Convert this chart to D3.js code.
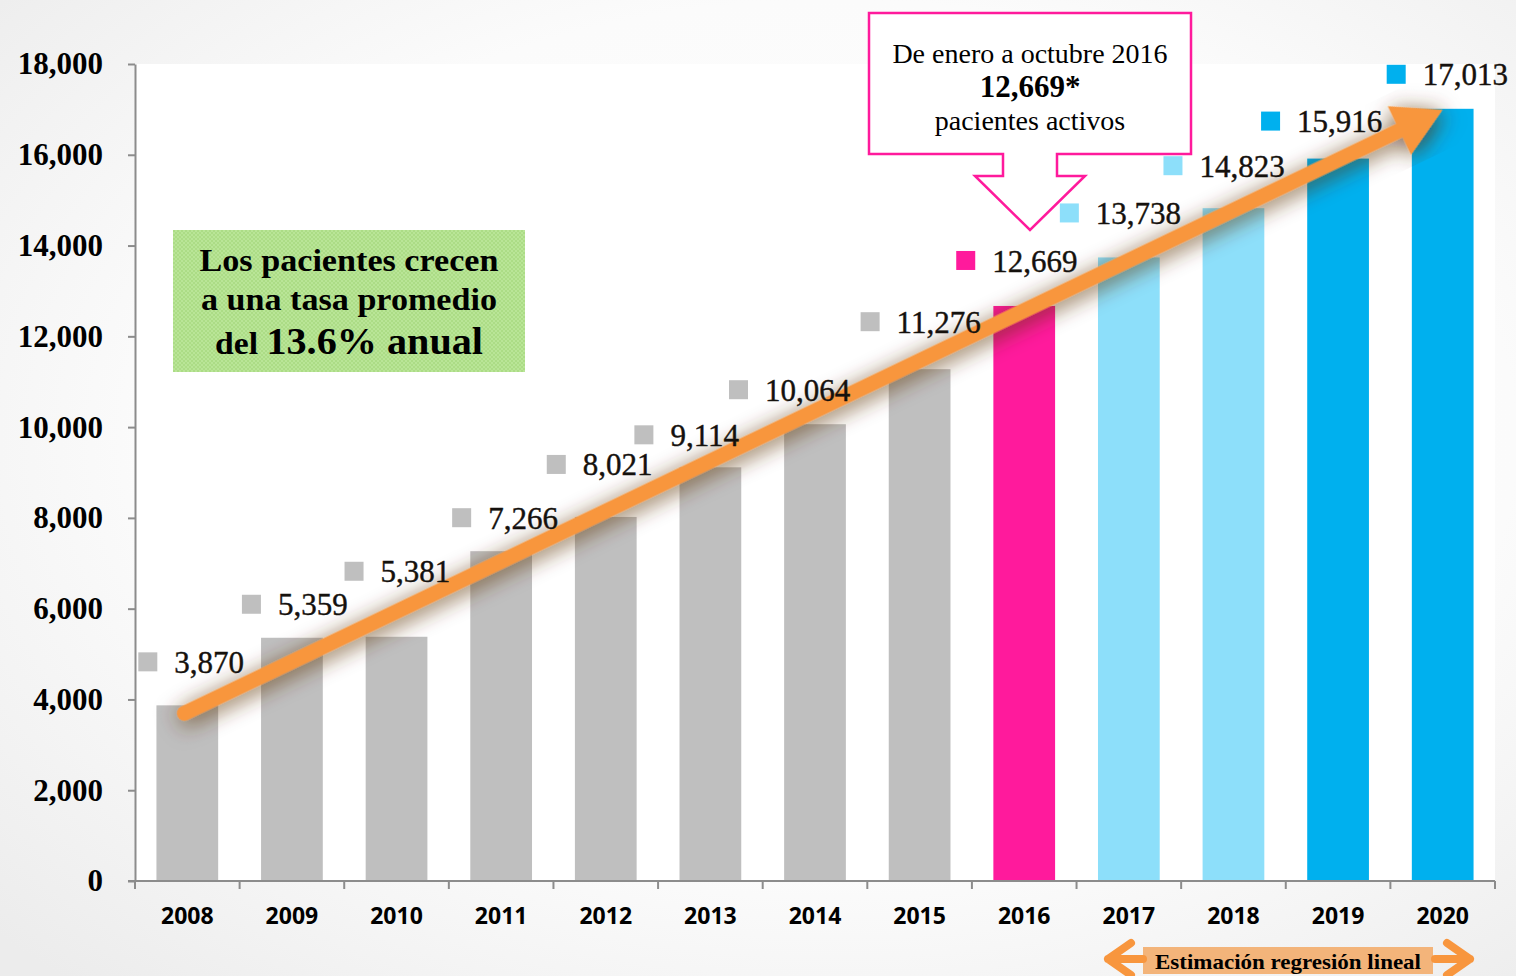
<!DOCTYPE html>
<html>
<head>
<meta charset="utf-8">
<script src="https://cdn.jsdelivr.net/npm/d3@7"></script>
<style>
  html, body { margin: 0; padding: 0; background: #ffffff; }
  svg { display: block; }
</style>
</head>
<body>
<div id="chart"></div>
<script>
// Data
const years = ["2008", "2009", "2010", "2011", "2012", "2013", "2014",
    "2015", "2016", "2017", "2018", "2019", "2020"]
const patients = [3870, 5359, 5381, 7266, 8021, 9114, 10064,
    11276, 12669, 13738, 14823, 15916, 17013]
// hist = historico, actual = 2016, est = estimacion
const kinds = ["hist", "hist", "hist", "hist", "hist", "hist", "hist",
    "hist", "actual", "est1", "est1", "est2", "est2"]
const yTicks = [0, 2000, 4000, 6000, 8000, 10000, 12000, 14000, 16000, 18000]

const boxLines = ["Los pacientes crecen", "a una tasa promedio"]
const calloutLines = ["De enero a octubre 2016", "12,669*", "pacientes activos"]
const footNote = "Estimación regresión lineal"

// label nudges (px) relative to the bar centre / top
const labelDx = [-13, -14, -16, -13, -23, -40, -50, -23, -32, -33, -34, -41, -20]
const labelDy = [-43, -33, -65, -33, -52, -32, -34, -47, -45, -44, -42, -37, -34]

const colors = {
    hist: "#bfbfbf",
    actual: "#ff1a9c",
    est1: "#8ddffa",
    est2: "#00b0ee",
}

const dims = {
    width: 1516,
    height: 976,
    margin: { top: 64, right: 21, bottom: 95, left: 135 },
}
dims.boundedWidth = dims.width - dims.margin.left - dims.margin.right
dims.boundedHeight = dims.height - dims.margin.top - dims.margin.bottom

const serif = "'Liberation Serif', 'DejaVu Serif', serif"
const sans = "'Open Sans', 'Liberation Sans', sans-serif"

const svg = d3.select("#chart").append("svg")
    .attr("width", dims.width)
    .attr("height", dims.height)

const defs = svg.append("defs")
const bg = defs.append("radialGradient").attr("id", "bg")
    .attr("cx", "55%").attr("cy", "45%").attr("r", "75%")
bg.append("stop").attr("offset", "0%").attr("stop-color", "#ffffff")
bg.append("stop").attr("offset", "60%").attr("stop-color", "#fbfbfb")
bg.append("stop").attr("offset", "100%").attr("stop-color", "#ececec")

const glow = defs.append("filter").attr("id", "glow")
    .attr("x", "-20%").attr("y", "-20%").attr("width", "140%").attr("height", "140%")
glow.append("feDropShadow")
    .attr("dx", 0).attr("dy", 4)
    .attr("stdDeviation", 11)
    .attr("flood-color", "#5a3010")
    .attr("flood-opacity", 0.8)

const pat = defs.append("pattern").attr("id", "greenTex")
    .attr("width", 4).attr("height", 4).attr("patternUnits", "userSpaceOnUse")
pat.append("rect").attr("width", 4).attr("height", 4).attr("fill", "#b9e597")
pat.append("rect").attr("width", 2).attr("height", 2).attr("fill", "#acdc86")
pat.append("rect").attr("x", 2).attr("y", 2).attr("width", 2).attr("height", 2).attr("fill", "#acdc86")

svg.append("rect")
    .attr("width", dims.width).attr("height", dims.height)
    .attr("fill", "url(#bg)")

const bounds = svg.append("g")
    .attr("transform", `translate(${dims.margin.left}, ${dims.margin.top})`)

bounds.append("rect")
    .attr("width", dims.boundedWidth).attr("height", dims.boundedHeight)
    .attr("fill", "#ffffff")

// Scales
const xScale = d3.scaleBand()
    .domain(years)
    .range([0, dims.boundedWidth])
    .paddingInner(0.41)
    .paddingOuter(0.205)

const yScale = d3.scaleLinear()
    .domain([0, 18000])
    .range([dims.boundedHeight, 0])

const cx = i => xScale(years[i]) + xScale.bandwidth() / 2

// Bars
bounds.append("g").selectAll("rect")
    .data(years)
    .join("rect")
    .attr("x", d => xScale(d))
    .attr("y", (d, i) => yScale(patients[i]))
    .attr("width", xScale.bandwidth())
    .attr("height", (d, i) => yScale(0) - yScale(patients[i]))
    .attr("fill", (d, i) => colors[kinds[i]])

// Y axis
const yAxis = bounds.append("g")
    .call(d3.axisLeft(yScale)
        .tickValues(yTicks)
        .tickFormat(d3.format(","))
        .tickSize(7)
        .tickSizeOuter(0)
        .tickPadding(25))
yAxis.select(".domain").attr("stroke", "#8c8c8c").attr("stroke-width", 2)
yAxis.selectAll(".tick line").attr("stroke", "#8c8c8c").attr("stroke-width", 2)
yAxis.selectAll(".tick text")
    .attr("fill", "#000")
    .style("font-family", serif)
    .style("font-weight", "bold")
    .style("font-size", "31px")

// X axis: line + ticks at category boundaries, labels centred
const xAxis = bounds.append("g")
    .attr("transform", `translate(0, ${dims.boundedHeight})`)
xAxis.append("line")
    .attr("x1", -7).attr("x2", dims.boundedWidth)
    .attr("stroke", "#8c8c8c").attr("stroke-width", 2)
xAxis.selectAll(".xtick")
    .data(d3.range(years.length + 1))
    .join("line")
    .attr("class", "xtick")
    .attr("x1", i => i * xScale.step())
    .attr("x2", i => i * xScale.step())
    .attr("y1", 0).attr("y2", 8)
    .attr("stroke", "#8c8c8c").attr("stroke-width", 2)
xAxis.selectAll(".xlabel")
    .data(years)
    .join("text")
    .attr("class", "xlabel")
    .attr("x", (d, i) => cx(i))
    .attr("y", 35)
    .attr("dy", "0.36em")
    .attr("text-anchor", "middle")
    .style("font-family", sans)
    .style("font-weight", "bold")
    .style("font-size", "23px")
    .text(d => d)

// Trend arrow
const x0 = cx(0) - 3, y0 = yScale(patients[0]) + 8
const x1 = cx(years.length - 1), y1 = yScale(patients[patients.length - 1]) + 1
const len = Math.hypot(x1 - x0, y1 - y0)
const ang = Math.atan2(y1 - y0, x1 - x0) * 180 / Math.PI
const shaftW = 15, headW = 54, headL = 48
bounds.append("path")
    .attr("transform", `translate(${x0}, ${y0}) rotate(${ang})`)
    .attr("d", `M0,${-shaftW / 2} L${len - headL},${-shaftW / 2} L${len - headL},${-headW / 2}
        L${len},0 L${len - headL},${headW / 2} L${len - headL},${shaftW / 2} L0,${shaftW / 2}
        A${shaftW / 2},${shaftW / 2} 0 0 1 0,${-shaftW / 2} Z`)
    .attr("fill", "#f8963e")
    .attr("filter", "url(#glow)")

// Data labels
const labels = bounds.append("g").selectAll("g")
    .data(years)
    .join("g")
    .attr("transform", (d, i) =>
        `translate(${cx(i) + labelDx[i]}, ${yScale(patients[i]) + labelDy[i]})`)
labels.append("rect")
    .attr("x", -36).attr("y", -10)
    .attr("width", 19).attr("height", 19)
    .attr("fill", (d, i) => colors[kinds[i]])
labels.append("text")
    .attr("x", 0)
    .attr("dy", "0.34em")
    .attr("fill", "#15110d")
    .attr("stroke", "#15110d")
    .attr("stroke-width", 0.4)
    .style("font-family", serif)
    .style("font-size", "31px")
    .text((d, i) => d3.format(",")(patients[i]))

// Green note box
const note = svg.append("g").attr("transform", "translate(173, 230)")
note.append("rect")
    .attr("width", 352).attr("height", 142)
    .attr("fill", "url(#greenTex)")
note.selectAll(".nl")
    .data(boxLines)
    .join("text")
    .attr("class", "nl")
    .attr("x", 176)
    .attr("y", (d, i) => 41 + i * 39)
    .attr("text-anchor", "middle")
    .attr("textLength", (d, i) => [299, 296][i])
    .attr("lengthAdjust", "spacingAndGlyphs")
    .style("font-family", serif)
    .style("font-weight", "bold")
    .style("font-size", "31px")
    .text(d => d)
const lastLine = note.append("text")
    .attr("x", 176).attr("y", 124)
    .attr("text-anchor", "middle")
    .attr("textLength", 268)
    .attr("lengthAdjust", "spacingAndGlyphs")
    .style("font-family", serif)
    .style("font-weight", "bold")
lastLine.append("tspan").style("font-size", "31px").text("del ")
lastLine.append("tspan").style("font-size", "37px").text("13.6% anual")

// Callout for 2016
const co = svg.append("g")
co.append("path")
    .attr("d", "M869,13 L1191,13 L1191,154 L1057,154 L1057,176 L1085,176 L1030,230 L975,176 L1003,176 L1003,154 L869,154 Z")
    .attr("fill", "#ffffff")
    .attr("stroke", "#ff1a9c")
    .attr("stroke-width", 2.5)
co.selectAll("text")
    .data(calloutLines)
    .join("text")
    .attr("x", 1030)
    .attr("y", (d, i) => [63, 97, 130][i])
    .attr("text-anchor", "middle")
    .style("font-family", serif)
    .style("font-weight", (d, i) => i === 1 ? "bold" : "normal")
    .style("font-size", (d, i) => i === 1 ? "31px" : "28px")
    .text(d => d)

// Estimation footnote
const fn = svg.append("g")
fn.append("rect")
    .attr("x", 1143).attr("y", 947)
    .attr("width", 290).attr("height", 27)
    .attr("fill", "#f3b47a")
fn.append("text")
    .attr("x", 1288).attr("y", 969)
    .attr("text-anchor", "middle")
    .attr("textLength", 266)
    .attr("lengthAdjust", "spacingAndGlyphs")
    .style("font-family", serif)
    .style("font-weight", "bold")
    .style("font-size", "22px")
    .text(footNote)
fn.append("path")
    .attr("d", "M1131,943 L1108,959 L1131,975 M1108,959 L1143,959")
    .attr("fill", "none").attr("stroke", "#f8963e")
    .attr("stroke-width", 8).attr("stroke-linecap", "round").attr("stroke-linejoin", "round")
fn.append("path")
    .attr("d", "M1447,943 L1470,959 L1447,975 M1470,959 L1435,959")
    .attr("fill", "none").attr("stroke", "#f8963e")
    .attr("stroke-width", 8).attr("stroke-linecap", "round").attr("stroke-linejoin", "round")
</script>
</body>
</html>
